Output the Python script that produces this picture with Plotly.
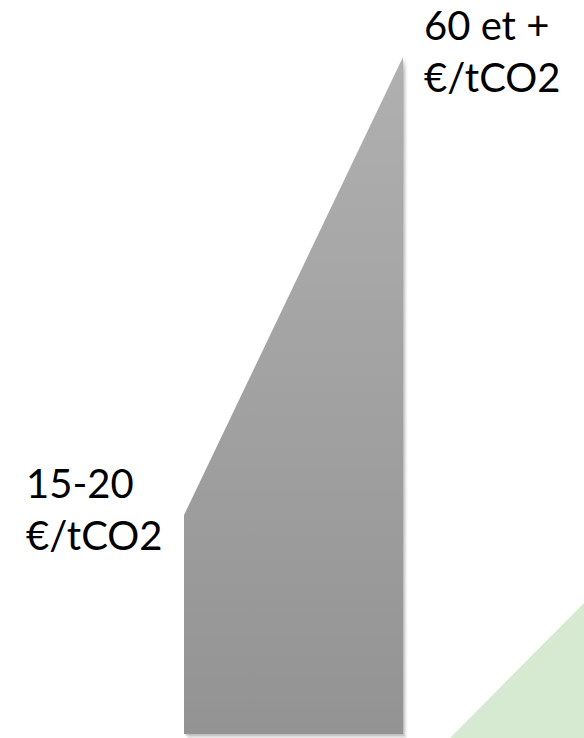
import plotly.graph_objects as go

# Data: carbon price trajectory (€/tCO2), start and end of the wedge
positions = [0, 1]
prices = [19.4, 60]
labels = ["15-20<br>€/tCO2", "60 et +<br>€/tCO2"]

# green decorative triangle (data units)
green_x = [1.2146, 1.8265, 1.8265]
green_y = [-0.3545, 11.61, -0.3545]

fig = go.Figure()

# green triangle
fig.add_trace(go.Scatter(
    x=green_x + [green_x[0]], y=green_y + [green_y[0]],
    mode="lines", fill="toself", fillcolor="#d5ead1",
    line=dict(width=0), hoverinfo="skip", showlegend=False))

# shadow of the wedge
poly_x = [positions[0], positions[0], positions[1], positions[1], positions[0]]
poly_y = [0, prices[0], prices[1], 0, 0]
for off, alpha in [(0.02, 0.05), (0.012, 0.09), (0.006, 0.13)]:
    fig.add_trace(go.Scatter(
        x=[v + off for v in poly_x], y=[v - off * 25 for v in poly_y],
        mode="lines", fill="toself", fillcolor=f"rgba(0,0,0,{alpha})",
        line=dict(width=0), hoverinfo="skip", showlegend=False))

# main wedge with vertical gradient
fig.add_trace(go.Scatter(
    x=poly_x, y=poly_y, mode="lines", fill="toself",
    fillgradient=dict(type="vertical",
                      colorscale=[[0, "#939393"], [1, "#b0b0b0"]],
                      start=0, stop=prices[1]),
    line=dict(width=0), hoverinfo="skip", showlegend=False))

fig.add_annotation(x=positions[0], y=prices[0], text=labels[0],
                   xanchor="left", yanchor="bottom", align="left",
                   xshift=-160, yshift=-46, showarrow=False,
                   font=dict(family="Lato", size=40, color="black"))
fig.add_annotation(x=positions[1], y=prices[1], text=labels[1],
                   xanchor="left", yanchor="bottom", align="left",
                   xshift=19, yshift=-46, showarrow=False,
                   font=dict(family="Lato", size=40, color="black"))

fig.update_layout(
    width=584, height=738,
    margin=dict(l=0, r=0, t=0, b=0),
    paper_bgcolor="white", plot_bgcolor="white",
    xaxis=dict(range=[-0.8402, 1.8265], visible=False, fixedrange=True),
    yaxis=dict(range=[-0.3545, 65.05], visible=False, fixedrange=True),
    showlegend=False,
    hovermode=False,
)

fig.write_html(
    "out.html",
    config={"displayModeBar": False, "staticPlot": True},
    post_script="document.body.style.margin='0';document.body.style.overflow='hidden';",
)
